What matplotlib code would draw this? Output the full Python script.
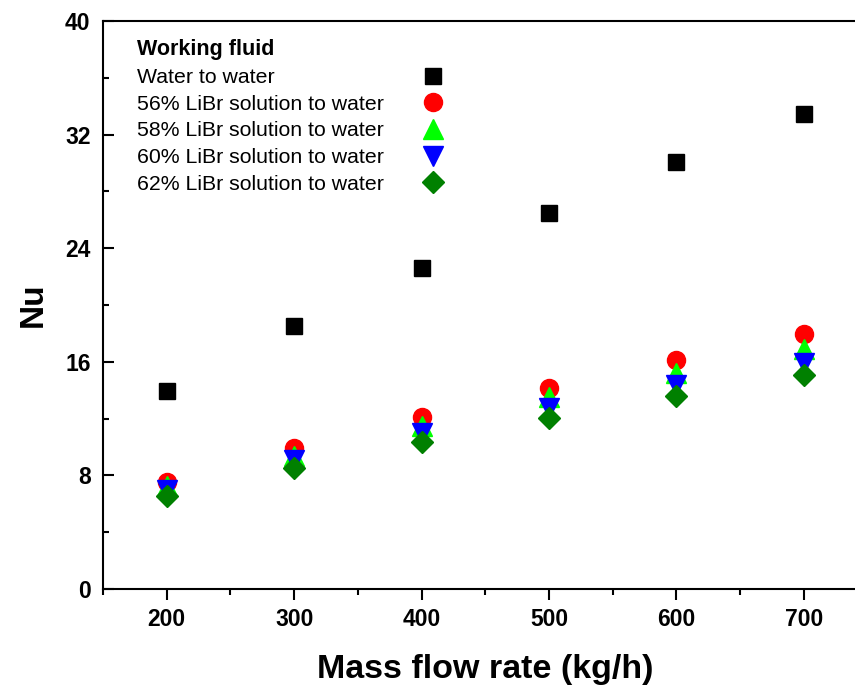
import matplotlib
matplotlib.use("Agg")
import matplotlib.pyplot as plt
from matplotlib.lines import Line2D
from matplotlib.ticker import MultipleLocator

plt.rcParams["font.family"] = ["Liberation Sans", "DejaVu Sans"]

# mass flow rate (kg/h)
flow = [200, 300, 400, 500, 600, 700]

# Nusselt number per working fluid
nu_water = [13.95, 18.55, 22.6, 26.45, 30.05, 33.45]
nu_56 = [7.5, 9.9, 12.1, 14.15, 16.1, 17.95]
nu_58 = [7.25, 9.4, 11.5, 13.5, 15.2, 16.9]
nu_60 = [6.95, 9.05, 11.0, 12.75, 14.35, 15.95]
nu_62 = [6.55, 8.55, 10.35, 12.05, 13.6, 15.1]

labels = [
    "Water to water",
    "56% LiBr solution to water",
    "58% LiBr solution to water",
    "60% LiBr solution to water",
    "62% LiBr solution to water",
]

fig = plt.figure(figsize=(8.55, 6.86), dpi=100)
ax = fig.add_axes([0.1205, 0.1414, 0.894, 0.828])

lines = []
lines += ax.plot(flow, nu_water, "s", color="black", ms=11.5, ls="none")
lines += ax.plot(flow, nu_56, "o", color="#ff0000", ms=13, ls="none")
lines += ax.plot(flow, nu_58, "^", color="#00ff00", ms=14, ls="none")
lines += ax.plot(flow, nu_60, "v", color="#0000ff", ms=14, ls="none")
lines += ax.plot(flow, nu_62, "D", color="#008000", ms=11.5, ls="none")

ax.set_xlim(150, 750)
ax.set_ylim(0, 40)
ax.xaxis.set_major_locator(MultipleLocator(100))
ax.xaxis.set_minor_locator(MultipleLocator(50))
ax.yaxis.set_major_locator(MultipleLocator(8))
ax.yaxis.set_minor_locator(MultipleLocator(4))

for s in ax.spines.values():
    s.set_linewidth(1.5)

ax.tick_params(axis="x", which="major", direction="out", length=8, width=1.5,
               labelsize=16.5, pad=6)
ax.tick_params(axis="x", which="minor", direction="out", length=4.5, width=1.5)
ax.tick_params(axis="y", which="major", direction="in", length=8, width=1.5,
               labelsize=16.5, pad=9)
ax.tick_params(axis="y", which="minor", direction="in", length=4.5, width=1.5)
for lbl in ax.get_xticklabels() + ax.get_yticklabels():
    lbl.set_fontweight("bold")

ax.set_xlabel("Mass flow rate (kg/h)", fontsize=24.5, fontweight="bold", labelpad=16)
ax.set_ylabel("Nu", fontsize=24, fontweight="bold", labelpad=12)

# legend: text column left aligned, markers in their own column on the right
common = dict(loc="upper left", frameon=False, fontsize=15.3,
              title_fontproperties={"weight": "bold", "size": 15.5},
              labelspacing=0.36, borderpad=0, borderaxespad=0, alignment="left")
blank = [Line2D([], [], ls="none") for _ in labels]
leg_text = ax.legend(blank, labels, bbox_to_anchor=(0.0445, 0.9675),
                     title="Working fluid", handlelength=0, handletextpad=0,
                     **common)
ax.add_artist(leg_text)
ax.legend(lines, [" "] * len(labels), bbox_to_anchor=(0.404, 0.9675),
          title=" ", handlelength=2.0, handletextpad=0, **common)

fig.savefig("out.png", dpi=100)
